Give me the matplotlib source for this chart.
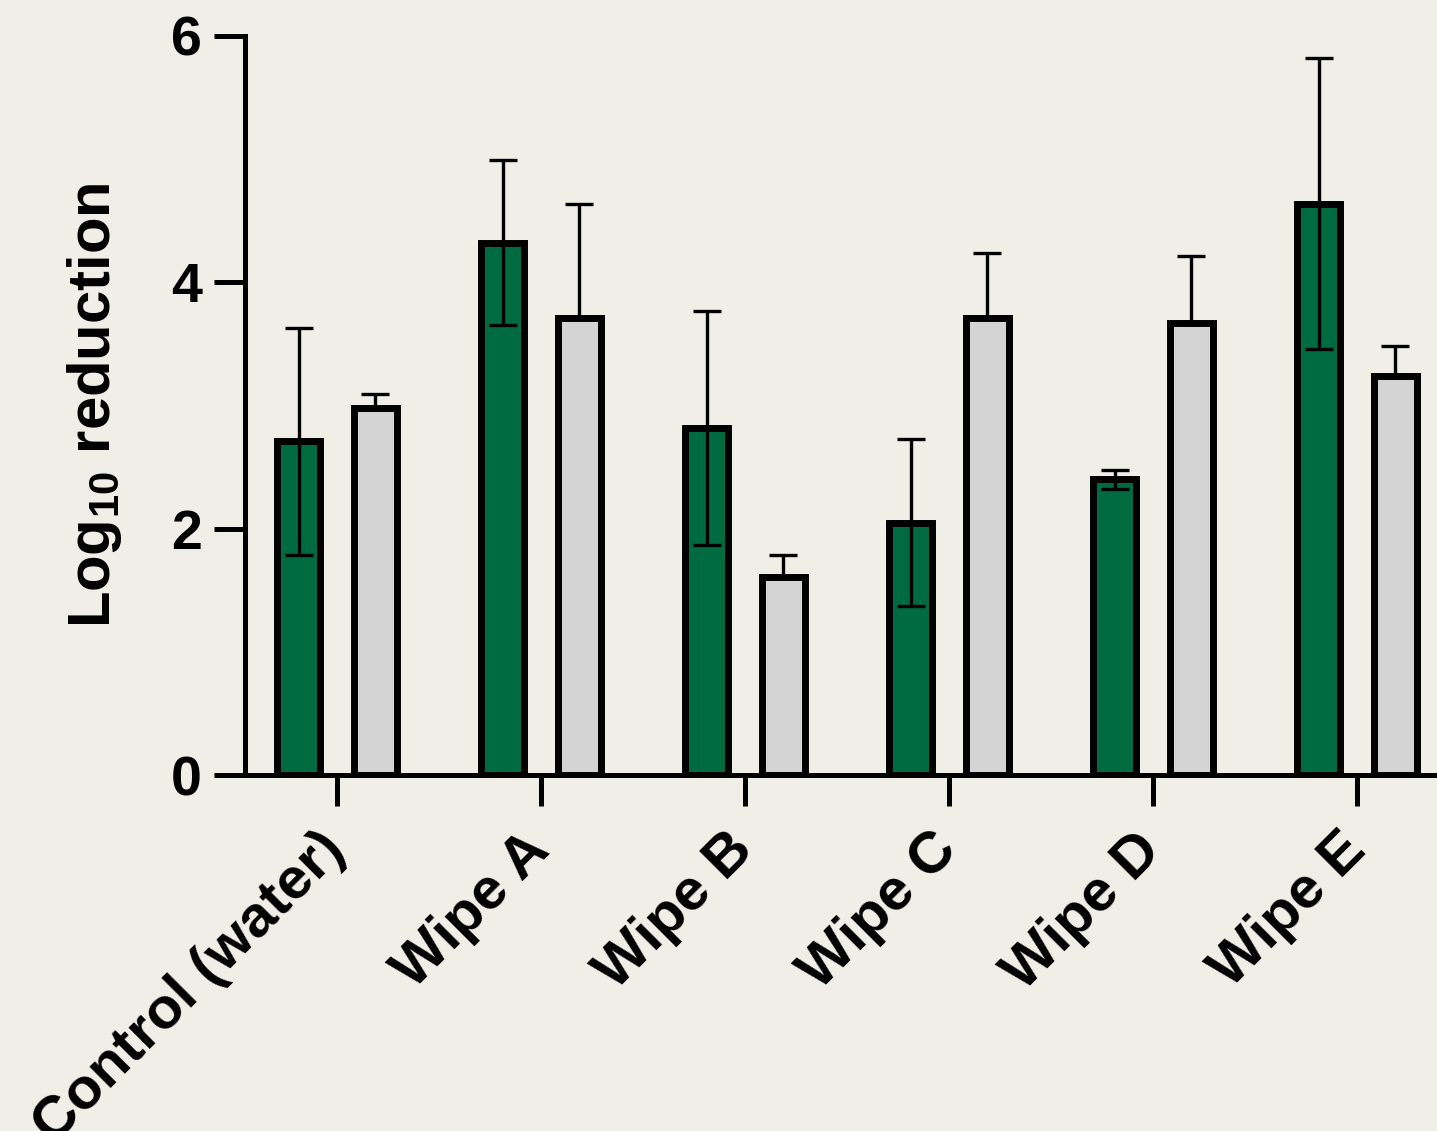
import matplotlib
matplotlib.use("Agg")
import matplotlib.pyplot as plt
import numpy as np

categories = ["Control (water)", "Wipe A", "Wipe B", "Wipe C", "Wipe D", "Wipe E"]
green_mean = [2.71, 4.32, 2.82, 2.05, 2.40, 4.64]
green_err = [0.92, 0.67, 0.95, 0.68, 0.08, 1.18]
grey_mean = [2.98, 3.71, 1.61, 3.71, 3.67, 3.24]
grey_err = [0.11, 0.93, 0.18, 0.53, 0.54, 0.24]
yticks = [0, 2, 4, 6]

bg = "#efeee7"
green = "#006a40"
grey = "#d4d4d4"

plt.rcParams["font.family"] = ["Liberation Sans", "DejaVu Sans"]
plt.rcParams["font.weight"] = "bold"
plt.rcParams["mathtext.fontset"] = "custom"
plt.rcParams["mathtext.bf"] = "Liberation Sans:bold"
plt.rcParams["mathtext.rm"] = "Liberation Sans:bold"

fig = plt.figure(figsize=(14.37, 11.31), dpi=100, facecolor=bg)
ax = fig.add_axes([245 / 1437, 1 - 775 / 1131, 1 - 245 / 1437, (775 - 36) / 1131])
ax.set_facecolor(bg)

x = np.arange(len(categories))
off = 0.187
w = 0.21
ekw = dict(elinewidth=2.4, capthick=2.4, ecolor="black")

ax.bar(x - off, green_mean, width=w, color=green, edgecolor="black", linewidth=5, zorder=2)
ax.bar(x + off, grey_mean, width=w, color=grey, edgecolor="black", linewidth=5, zorder=2)
ax.errorbar(x - off, green_mean, yerr=[green_err, green_err], fmt="none",
            capsize=10, zorder=3, **ekw)
ax.errorbar(x + off, grey_mean, yerr=[np.zeros(len(grey_err)), grey_err], fmt="none",
            capsize=10, zorder=1, **ekw)

ax.set_xlim(-0.451, (1437 - 337) / 204)
ax.set_ylim(0, 6)
ax.set_yticks(yticks)
ax.set_yticklabels([str(t) for t in yticks], fontsize=40, fontweight="bold")
ax.set_xticks(x)
ax.set_xticklabels(categories, fontsize=42, fontweight="bold", rotation=45,
                   ha="right", va="center", rotation_mode="anchor")

for s in ["top", "right"]:
    ax.spines[s].set_visible(False)
for s in ["left", "bottom"]:
    ax.spines[s].set_linewidth(3.6)
    ax.spines[s].set_capstyle("projecting")
ax.tick_params(axis="y", length=22, width=3.6, pad=9)
ax.tick_params(axis="x", length=22, width=3.6, pad=26)
ax.set_ylabel(r"Log$_{\mathbf{10}}$ reduction", fontsize=43, fontweight="bold", labelpad=34)

fig.savefig("out.png", dpi=100, facecolor=bg)
